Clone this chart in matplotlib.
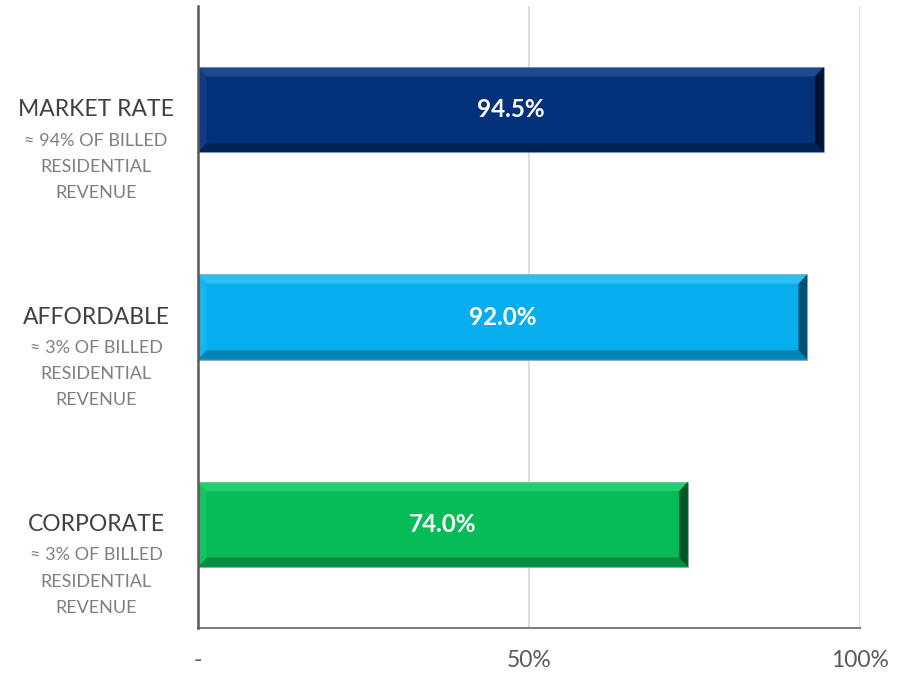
import matplotlib.pyplot as plt
from matplotlib.patches import Polygon

plt.rcParams['font.family'] = ['Lato', 'DejaVu Sans']

categories = ['MARKET RATE', 'AFFORDABLE', 'CORPORATE']
subtitles = [
    ['\u2248 94% OF BILLED', 'RESIDENTIAL', 'REVENUE'],
    ['\u2248 3% OF BILLED', 'RESIDENTIAL', 'REVENUE'],
    ['\u2248 3% OF BILLED', 'RESIDENTIAL', 'REVENUE'],
]
values = [94.5, 92.0, 74.0]
colors = ['#04327A', '#06AEEF', '#07BB56']
light = ['#3C66AE', '#5FD0FA', '#45E68C']
dark = ['#021D4A', '#04729E', '#047A37']
darkest = ['#000A1F', '#023A52', '#013D1B']
xticks = [0, 50, 100]
xticklabels = ['-', '50%', '100%']

fig = plt.figure(figsize=(9, 6.74), dpi=100)
ax = fig.add_axes([198 / 900, 1 - 628 / 674, 662 / 900, 622 / 674])

h = 0.41
ypos = list(range(len(categories)))
ax.barh(ypos, values, height=h, color=colors, edgecolor='#8FA3C0', linewidth=0.6, zorder=3)

# bevel look
bx, by = 1.3, 0.045
for y, v, lc, dc, kc in zip(ypos, values, light, dark, darkest):
    y0, y1 = y - h / 2, y + h / 2  # y axis is inverted later, y0 is the top
    top = Polygon([(0, y0), (v, y0), (v - bx, y0 + by), (bx, y0 + by)], closed=True,
                  facecolor=lc, edgecolor='none', alpha=0.45, zorder=4)
    bot = Polygon([(0, y1), (v, y1), (v - bx, y1 - by), (bx, y1 - by)], closed=True,
                  facecolor=dc, edgecolor='none', alpha=0.7, zorder=4)
    right = Polygon([(v, y0), (v, y1), (v - bx, y1 - by), (v - bx, y0 + by)], closed=True,
                    facecolor=kc, edgecolor='none', alpha=0.8, zorder=4)
    left = Polygon([(0, y0), (0, y1), (bx, y1 - by), (bx, y0 + by)], closed=True,
                   facecolor=lc, edgecolor='none', alpha=0.2, zorder=4)
    for p in (top, bot, right, left):
        ax.add_patch(p)
    ax.text(v / 2, y, f'{v:.1f}%', ha='center', va='center', color='white',
            fontsize=17.5, fontweight='bold', zorder=5)

ax.set_xlim(0, 100)
ax.set_ylim(2.5, -0.5)
ax.set_xticks(xticks)
ax.set_xticklabels(xticklabels, fontsize=16.5, color='#595959')
ax.set_yticks([])
ax.tick_params(axis='x', length=0, pad=16)
ax.xaxis.grid(True, color='#D9D9D9', linewidth=1.2, zorder=0)
ax.set_axisbelow(True)

for s in ['top', 'right']:
    ax.spines[s].set_visible(False)
ax.spines['left'].set_color('#595959')
ax.spines['left'].set_linewidth(1.8)
ax.spines['left'].set_zorder(6)
ax.spines['bottom'].set_color('#7F7F7F')
ax.spines['bottom'].set_linewidth(1.5)

lx = (96 - 198) / 662
tr = ax.get_yaxis_transform()
for y, name, sub in zip(ypos, categories, subtitles):
    ax.text(lx, y, name, transform=tr, ha='center', va='center',
            fontsize=16.5, color='#404040')
    for i, line in enumerate(sub):
        ax.text(lx, y + 0.15 + i * 0.126, line, transform=tr, ha='center', va='center',
                fontsize=13, color='#7F7F7F')

fig.savefig('out.png', dpi=100)
